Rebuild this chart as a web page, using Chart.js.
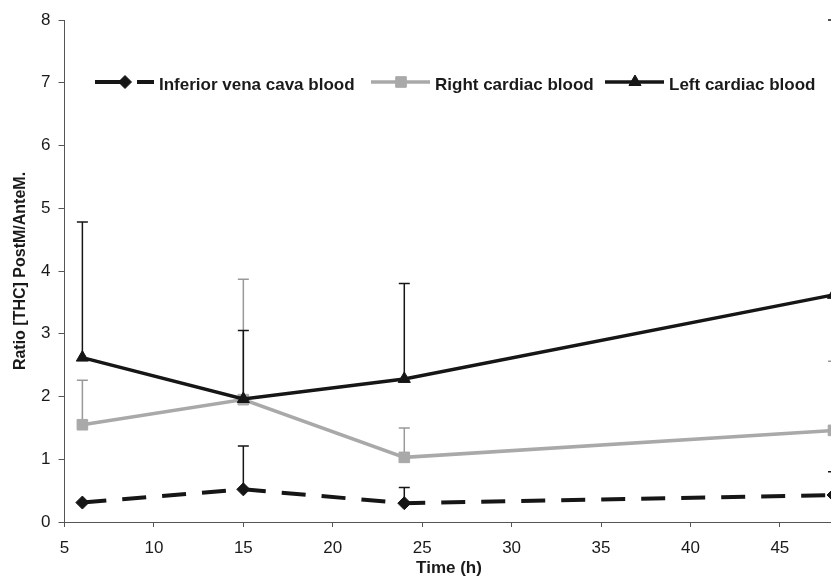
<!DOCTYPE html>
<html>
<head>
<meta charset="utf-8">
<script src="https://cdn.jsdelivr.net/npm/chart.js@4.4.1/dist/chart.umd.min.js"></script>
<style>
  html, body { margin: 0; padding: 0; background: #fff; overflow: hidden; }
  /* the plot runs a few pixels past the right edge of the window, as in the source figure */
  canvas { display: block; }
</style>
</head>
<body>
<canvas id="chart" width="842" height="579"></canvas>
<script>
'use strict';

// Sampling times (h)
var times = [6, 15, 24, 48];

// Ratio [THC] PostM/AnteM., mean values
var venaCava     = [0.31, 0.52, 0.30, 0.43];
var rightCardiac = [1.55, 1.95, 1.03, 1.46];
var leftCardiac  = [2.62, 1.96, 2.28, 3.62];

// upper end of each error bar (null = no bar)
var venaCavaTop     = [null, 1.21, 0.55, 0.80];
var rightCardiacTop = [2.26, 3.87, 1.50, 2.56];
var leftCardiacTop  = [4.78, 3.05, 3.80, 8.00];

// Axis ticks
var xTicks = [5, 10, 15, 20, 25, 30, 35, 40, 45];
var yTicks = [0, 1, 2, 3, 4, 5, 6, 7, 8];

var BLACK = '#161616';
var GREY = '#a9a9a9';
var FONT = '"Liberation Sans", Arial, Helvetica, sans-serif';


function points(values) {
  return times.map(function(t, i) { return { x: t, y: values[i] }; });
}


// Error bars: vertical line up to the "top" value with a cap,
// drawn under the lines and markers
//
var errorBars = {
  id: 'errorBars',
  beforeDatasetsDraw: function(chart) {
    var ctx = chart.ctx;
    var xs = chart.scales.x, ys = chart.scales.y;
    ctx.save();
    [1, 0, 2].forEach(function(di) {
      var ds = chart.data.datasets[di];
      ctx.strokeStyle = ds.errColor;
      ctx.lineWidth = 1.5;
      ds.errTop.forEach(function(top, i) {
        if (top == null) return;
        var px = xs.getPixelForValue(times[i]);
        var y0 = ys.getPixelForValue(ds.data[i].y);
        var y1 = ys.getPixelForValue(top);
        ctx.beginPath();
        ctx.moveTo(px, y0);
        ctx.lineTo(px, y1);
        ctx.moveTo(px - 5.5, y1);
        ctx.lineTo(px + 5.5, y1);
        ctx.stroke();
      });
    });
    ctx.restore();
  }
};


// Legend inside the plot: line sample + marker + bold label
//
var lineLegend = {
  id: 'lineLegend',
  afterDraw: function(chart) {
    var ctx = chart.ctx;
    var starts = [95, 371, 605];
    var ly = 82;
    ctx.save();
    chart.data.datasets.forEach(function(ds, i) {
      var x = starts[i];
      ctx.strokeStyle = ds.borderColor;
      ctx.lineWidth = ds.borderWidth;
      ctx.setLineDash(ds.legendDash || []);
      ctx.beginPath();
      ctx.moveTo(x, ly);
      ctx.lineTo(x + 59, ly);
      ctx.stroke();
      ctx.setLineDash([]);

      ctx.fillStyle = ds.pointBackgroundColor;
      ctx.strokeStyle = ds.pointBorderColor;
      ctx.lineWidth = 1;
      Chart.helpers.drawPoint(ctx, {
        pointStyle: ds.pointStyle,
        radius: ds.pointRadius,
        borderWidth: 1,
        rotation: 0
      }, x + 30, ly);

      ctx.fillStyle = '#1a1a1a';
      ctx.font = 'bold 17px ' + FONT;
      ctx.textBaseline = 'alphabetic';
      ctx.textAlign = 'left';
      ctx.fillText(ds.label, x + 64, 90);
    });
    ctx.restore();
  }
};


new Chart(document.getElementById('chart'), {
  type: 'line',
  data: {
    datasets: [
      {
        label: 'Inferior vena cava blood',
        data: points(venaCava),
        errTop: venaCavaTop,
        errColor: BLACK,
        borderColor: BLACK,
        borderWidth: 4,
        borderDash: [24, 16],
        legendDash: [28, 14],
        pointStyle: 'rectRot',
        pointRadius: 6.5,
        pointBackgroundColor: BLACK,
        pointBorderColor: BLACK,
        pointBorderWidth: 1,
        order: 3
      },
      {
        label: 'Right cardiac blood',
        data: points(rightCardiac),
        errTop: rightCardiacTop,
        errColor: '#999999',
        borderColor: GREY,
        borderWidth: 3.5,
        pointStyle: 'rect',
        pointRadius: 7.5,
        pointBackgroundColor: GREY,
        pointBorderColor: GREY,
        pointBorderWidth: 1,
        order: 2
      },
      {
        label: 'Left cardiac blood',
        data: points(leftCardiac),
        errTop: leftCardiacTop,
        errColor: BLACK,
        borderColor: BLACK,
        borderWidth: 3.5,
        pointStyle: 'triangle',
        pointRadius: 7,
        pointBackgroundColor: BLACK,
        pointBorderColor: BLACK,
        pointBorderWidth: 1,
        order: 1
      }
    ]
  },
  options: {
    responsive: false,
    devicePixelRatio: 1,
    animation: false,
    layout: {
      padding: { left: 0, right: 0, top: 20, bottom: 0 }
    },
    plugins: {
      legend: { display: false },
      tooltip: { enabled: false }
    },
    scales: {
      x: {
        type: 'linear',
        min: 5,
        max: 48,
        afterBuildTicks: function(axis) {
          axis.ticks = xTicks.map(function(v) { return { value: v }; });
        },
        afterFit: function(axis) {
          axis.height = 57;
          axis.paddingLeft = 0;
          axis.paddingRight = 0;
        },
        ticks: {
          color: '#1a1a1a',
          font: { family: FONT, size: 17 },
          padding: 11,
          maxRotation: 0,
          autoSkip: false
        },
        grid: {
          drawOnChartArea: false,
          tickLength: 5,
          color: '#555'
        },
        border: { color: '#555', width: 1 },
        title: {
          display: true,
          text: 'Time (h)',
          color: '#1a1a1a',
          font: { family: FONT, size: 17, weight: 'bold' },
          padding: { top: 0, bottom: 0 }
        }
      },
      y: {
        min: 0,
        max: 8,
        afterBuildTicks: function(axis) {
          axis.ticks = yTicks.map(function(v) { return { value: v }; });
        },
        afterFit: function(axis) {
          axis.width = 64.5;
          axis.paddingTop = 0;
          axis.paddingBottom = 0;
        },
        ticks: {
          color: '#1a1a1a',
          font: { family: FONT, size: 17 },
          padding: 8
        },
        grid: {
          drawOnChartArea: false,
          tickLength: 6,
          color: '#555'
        },
        border: { color: '#555', width: 1 },
        title: {
          display: true,
          text: 'Ratio [THC] PostM/AnteM.',
          color: '#1a1a1a',
          font: { family: FONT, size: 16, weight: 'bold' },
          padding: { top: 11, bottom: 0 }
        }
      }
    }
  },
  plugins: [errorBars, lineLegend]
});
</script>
</body>
</html>
